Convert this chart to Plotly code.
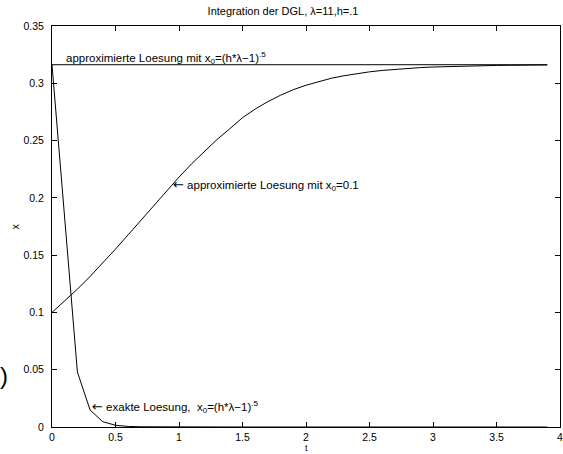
import plotly.graph_objects as go

t = [round(0.1 * i, 1) for i in range(40)]

x_approx = [0.1000, 0.1098, 0.1203, 0.1314, 0.1431, 0.1553, 0.1678, 0.1805, 0.1933, 0.2058,
            0.2181, 0.2298, 0.2408, 0.2510, 0.2603, 0.2700, 0.2775, 0.2840, 0.2896, 0.2944,
            0.2983, 0.3016, 0.3044, 0.3066, 0.3085, 0.3100, 0.3112, 0.3122, 0.3130, 0.3137,
            0.3142, 0.3146, 0.3150, 0.3152, 0.3154, 0.3156, 0.3157, 0.3158, 0.3159, 0.3160]

x_exact = [0.3162, 0.182, 0.048, 0.0148, 0.0046, 0.0015, 0.0005, 0.0002, 0.0001, 0.0,
           0.0, 0.0, 0.0, 0.0, 0.0, 0.0, 0.0, 0.0, 0.0, 0.0,
           0.0, 0.0, 0.0, 0.0, 0.0, 0.0, 0.0, 0.0, 0.0, 0.0,
           0.0, 0.0, 0.0, 0.0, 0.0, 0.0, 0.0, 0.0, 0.0, 0.0]

t_fixed = [0.0, 3.9]
x_fixed = [0.3162, 0.3162]

x_ticks = [0, 0.5, 1, 1.5, 2, 2.5, 3, 3.5, 4]
x_ticktext = ["0", "0.5", "1", "1.5", "2", "2.5", "3", "3.5", "4"]
y_ticks = [0, 0.05, 0.1, 0.15, 0.2, 0.25, 0.3, 0.35]
y_ticktext = ["0", "0.05", "0.1", "0.15", "0.2", "0.25", "0.3", "0.35"]

FONT = "Liberation Sans, Arial, Helvetica, sans-serif"
line_style = dict(color="black", width=1)

fig = go.Figure()
fig.add_trace(go.Scatter(x=t_fixed, y=x_fixed, mode="lines", line=line_style, hoverinfo="skip"))
fig.add_trace(go.Scatter(x=t, y=x_approx, mode="lines", line=line_style, hoverinfo="skip"))
fig.add_trace(go.Scatter(x=t, y=x_exact, mode="lines", line=line_style, hoverinfo="skip"))

ARROW = '<span style="font-family:DejaVu Sans;font-size:13px">←</span> '
ann_font = dict(family=FONT, size=11.5, color="black")
annotations = [
    dict(x=0.097, y=0.3225, xref="x", yref="y", xanchor="left", yanchor="middle",
         text="approximierte Loesung mit x<sub>0</sub>=(h*λ−1)<sup>.5</sup>",
         showarrow=False, font=ann_font),
    dict(x=0.94, y=0.2108, xref="x", yref="y", xanchor="left", yanchor="middle",
         text=ARROW + "approximierte Loesung mit x<sub>0</sub>=0.1",
         showarrow=False, font=ann_font),
    dict(x=0.30, y=0.0174, xref="x", yref="y", xanchor="left", yanchor="middle",
         text=ARROW + "exakte Loesung,  x<sub>0</sub>=(h*λ−1)<sup>.5</sup>",
         showarrow=False, font=ann_font),
    dict(x=306, y=448, xref="paper", yref="paper", text="t", showarrow=False,
         font=dict(family=FONT, size=9, color="black")),
    dict(x=15, y=227, xref="paper", yref="paper", text="x", textangle=-90, showarrow=False,
         font=dict(family=FONT, size=10, color="black")),
    dict(x=4, y=375, xref="paper", yref="paper", text=")", showarrow=False,
         font=dict(family=FONT, size=24, color="black")),
]

W, H = 563, 454
L, R, T, B = 52, 3, 25.5, 27
pw, ph = W - L - R, H - T - B
for a in annotations[3:]:
    a["x"] = (a["x"] - L) / pw
    a["y"] = (H - B - a["y"]) / ph
    a["xanchor"] = "center"
    a["yanchor"] = "middle"

fig.update_layout(
    width=W, height=H, autosize=False,
    margin=dict(l=L, r=R, t=T, b=B, pad=0, autoexpand=False),
    paper_bgcolor="white", plot_bgcolor="white",
    showlegend=False,
    font=dict(family=FONT, size=10.5, color="black"),
    title=dict(text="Integration der DGL, λ=11,h=.1", x=(283 - L) / pw, xref="paper",
               xanchor="center", y=1 - 11 / H, yref="container", yanchor="middle",
               font=dict(family=FONT, size=11, color="black")),
    annotations=annotations,
)
fig.update_xaxes(range=[0, 4], tickvals=x_ticks, ticktext=x_ticktext, ticks="inside",
                 ticklen=5, tickcolor="black", showline=True, linecolor="black", linewidth=1,
                 mirror="ticks", showgrid=False, zeroline=False, tickfont=dict(size=10.5),
                 automargin=False, ticklabeloverflow="allow")
fig.update_yaxes(range=[0, 0.35], tickvals=y_ticks, ticktext=y_ticktext, ticks="inside",
                 ticklen=5, tickcolor="black", showline=True, linecolor="black", linewidth=1,
                 mirror="ticks", showgrid=False, zeroline=False, tickfont=dict(size=10.5),
                 automargin=False, ticklabelstandoff=5)

fig.write_html(
    "out.html",
    config={"responsive": False, "displayModeBar": False},
    post_script="document.body.style.margin='0';document.body.style.overflow='hidden';",
)
